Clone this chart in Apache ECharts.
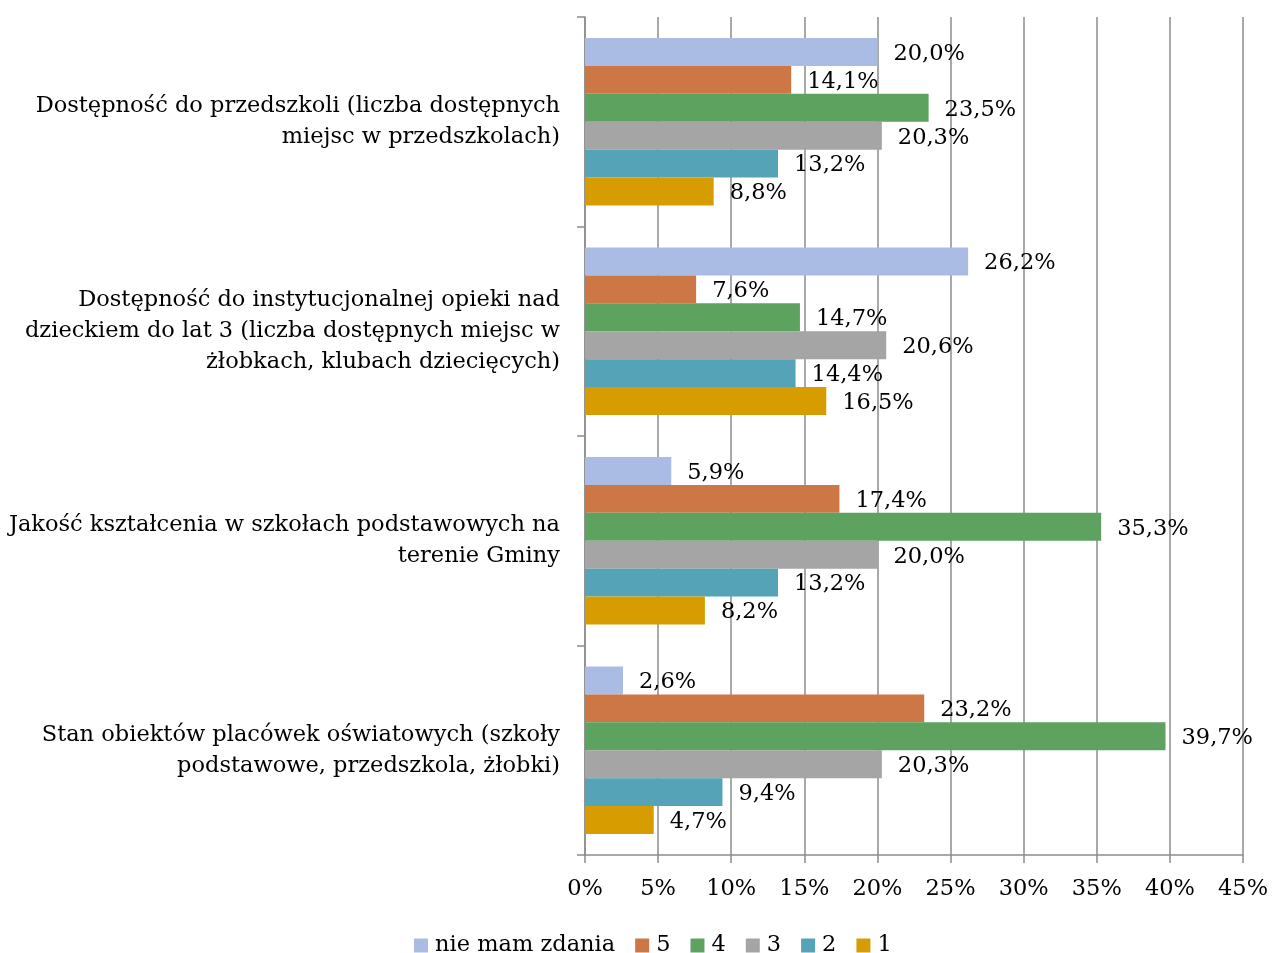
<!DOCTYPE html>
<html>
<head>
<meta charset="utf-8">
<script src="https://cdn.jsdelivr.net/npm/echarts@6/dist/echarts.min.js"></script>
<style>
  html, body { margin: 0; padding: 0; background: #ffffff; }
  #chart { width: 1273px; height: 953px; }
</style>
</head>
<body>
<div id="chart"></div>
<script>
// Survey categories (top to bottom)
const categories = [
  'Dostępność do przedszkoli (liczba dostępnych\nmiejsc w przedszkolach)',
  'Dostępność do instytucjonalnej opieki nad\ndzieckiem do lat 3 (liczba dostępnych miejsc w\nżłobkach, klubach dziecięcych)',
  'Jakość kształcenia w szkołach podstawowych na\nterenie Gminy',
  'Stan obiektów placówek oświatowych (szkoły\npodstawowe, przedszkola, żłobki)'
];

// Answer shares in percent, one array per rating
const seriesNames = ['nie mam zdania', '5', '4', '3', '2', '1'];
const noOpinion = [20.0, 26.2, 5.9, 2.6];
const rating5 = [14.1, 7.6, 17.4, 23.2];
const rating4 = [23.5, 14.7, 35.3, 39.7];
const rating3 = [20.3, 20.6, 20.0, 20.3];
const rating2 = [13.2, 14.4, 13.2, 9.4];
const rating1 = [8.8, 16.5, 8.2, 4.7];
const seriesValues = [noOpinion, rating5, rating4, rating3, rating2, rating1];

const colors = ['#AABCE4', '#CD7646', '#5DA25F', '#A5A5A5', '#54A3B7', '#D69C00'];

const fontFamily = '"DejaVu Serif", serif';
const axisGray = '#8C8C8C';

const chart = echarts.init(document.getElementById('chart'), null, { renderer: 'canvas' });

const series = seriesNames.map((name, i) => ({
  name: name,
  type: 'bar',
  data: seriesValues[i],
  barGap: '0%',
  barCategoryGap: '20%',
  itemStyle: { color: colors[i] },
  label: {
    show: true,
    position: 'right',
    distance: 16,
    offset: [0, 2],
    color: '#000000',
    fontFamily: fontFamily,
    fontSize: 22.5,
    formatter: p => p.value.toFixed(1).replace('.', ',') + '%'
  }
}));

chart.setOption({
  animation: false,
  textStyle: { fontFamily: fontFamily },
  grid: { left: 585, right: 30, top: 17, bottom: 98, containLabel: false },
  legend: {
    data: seriesNames,
    top: 929,
    left: 409,
    itemWidth: 14,
    itemHeight: 14,
    itemGap: 20,
    icon: 'rect',
    textStyle: {
      fontFamily: fontFamily,
      fontSize: 22.5,
      color: '#000000',
      padding: [0, 0, 0, 2]
    }
  },
  xAxis: {
    type: 'value',
    min: 0,
    max: 45,
    interval: 5,
    axisLine: { show: true, lineStyle: { color: axisGray, width: 1.5 } },
    axisTick: { show: true, length: 8, lineStyle: { color: axisGray, width: 1.5 } },
    splitLine: { show: true, lineStyle: { color: axisGray, width: 1.5 } },
    axisLabel: {
      formatter: v => v + '%',
      color: '#000000',
      fontFamily: fontFamily,
      fontSize: 22.5,
      margin: 23
    }
  },
  yAxis: {
    type: 'category',
    data: categories,
    inverse: true,
    axisLine: { show: true, lineStyle: { color: axisGray, width: 1.5 } },
    axisTick: { show: true, length: 8, lineStyle: { color: axisGray, width: 1.5 } },
    axisLabel: {
      color: '#000000',
      fontFamily: fontFamily,
      fontSize: 22.5,
      lineHeight: 31,
      margin: 25,
      align: 'right'
    }
  },
  series: series
});
</script>
</body>
</html>
